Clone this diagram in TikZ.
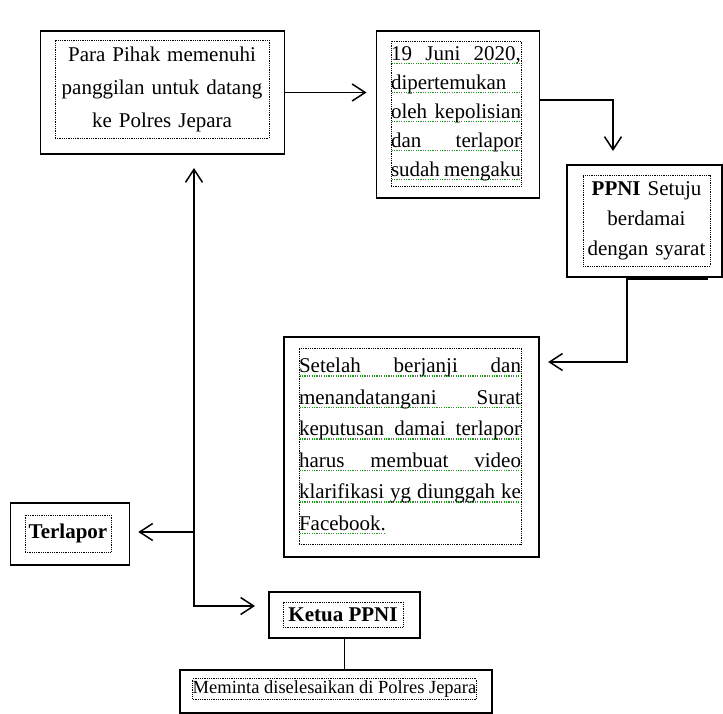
\documentclass[tikz,border=0pt]{standalone}
\usepackage{fontspec}
\setmainfont{Liberation Serif}
\usetikzlibrary{arrows.meta,calc}
\setlength{\parindent}{0pt}
\definecolor{squig}{RGB}{40,150,40}
\newcommand{\squig}[1]{\leavevmode\setbox0\hbox{#1}\rlap{\textcolor{squig}{\raisebox{-4pt}{\hbox to \wd0{\leaders\hbox to 2.4pt{\hss\rule{1.1pt}{1.1pt}\hss}\hfill}}}}\box0}
\newcommand{\fline}[1]{\squig{\makebox[\hsize][s]{#1}}}
\newcommand{\lline}[1]{\squig{#1}}
\tikzset{
    box/.style = {draw, rectangle, line width=1.5pt, inner sep=0pt, outer sep=0pt},
    frame/.style = {draw, rectangle, densely dotted, line width=0.8pt, inner sep=0pt},
    link/.style = {draw, line width=1.5pt, -{Straight Barb[length=13pt,width=17pt,line width=1.5pt]}}
}

\begin{document}
\begin{tikzpicture}[x=1pt, y=-1pt]
    \useasboundingbox (0,0) rectangle (723,714);
    % outer boxes
    \node [box, minimum width=244pt, minimum height=123pt] (para) at (162.5,92.5) {};
    \node [box, minimum width=163pt, minimum height=167pt] (juni) at (458,114.5) {};
    \node [box, minimum width=155pt, minimum height=112pt] (setuju) at (644.5,221) {};
    \node [box, minimum width=255pt, minimum height=220pt] (hasil) at (411.7,447) {};
    \node [box, minimum width=119pt, minimum height=62pt] (lapor) at (69.8,534) {};
    \node [box, minimum width=151pt, minimum height=46pt] (ketua) at (344.5,615) {};
    \node [box, minimum width=312pt, minimum height=43pt] (minta) at (336,691.5) {};
    % text frames
    \node [frame, text width=214pt, minimum height=98pt, align=center, font=\fontsize{21}{33}\selectfont] (paraT) at (162,89)
        {Para Pihak memenuhi\\ panggilan untuk datang\\ ke Polres Jepara};
    \node [frame, text width=130pt, minimum height=145pt, align=flush left, font=\fontsize{21}{29}\selectfont] (juniT) at (456,113.5)
        {\fline{19 Juni 2020,}\\ \fline{dipertemukan}\\ \fline{oleh kepolisian}\\ \fline{dan terlapor}\\ \fline{sudah mengaku}};
    \node [frame, text width=127pt, minimum height=91pt, align=center, font=\fontsize{21}{30}\selectfont] (setujuT) at (646.5,220.5)
        {\textbf{PPNI} Setuju\\ berdamai\\ dengan syarat};
    \node [frame, text width=222pt, minimum height=196pt, align=flush left, font=\fontsize{21}{31.5}\selectfont] (hasilT) at (410,446)
        {\fline{Setelah berjanji dan}\\ \fline{menandatangani Surat}\\ \fline{keputusan damai terlapor}\\ \fline{harus membuat video}\\ \fline{klarifikasi yg diunggah ke}\\ \lline{Facebook.}\\[12pt]};
    \node [frame, minimum width=86pt, minimum height=37pt, font=\fontsize{21}{25}\selectfont\bfseries] (laporT) at (68,533.5) {Terlapor};
    \node [frame, minimum width=120pt, minimum height=25pt, font=\fontsize{21}{25}\selectfont\bfseries] (ketuaT) at (343,614.5) {Ketua PPNI};
    \node [frame, minimum width=283pt, minimum height=20.5pt, font=\fontsize{18.5}{22}\selectfont] (mintaT) at (334.5,689) {Meminta diselesaikan di Polres Jepara};
    % connectors
    \draw [link, shorten >=10pt] (para.east) -- (para.east -| juni.west);
    \draw [link, shorten >=14pt] ([yshift=14.5pt]juni.east) -| ([xshift=-31.5pt]setuju.north);
    \draw [link, shorten >=9pt] ([xshift=-17.5pt]setuju.south) |- ([yshift=85pt]hasil.east);
    \draw [line width=3pt] ([xshift=-17.5pt,yshift=-1pt]setuju.south) -- ([xshift=63pt,yshift=-1pt]setuju.south);
    \coordinate (split) at (194,532);
    \draw [link, shorten >=14pt] (split) -- (split |- para.south);
    \draw [link, shorten >=9pt] (split) -- (split -| lapor.east);
    \draw [link, shorten >=14pt] (split) |- ([yshift=9pt]ketua.west);
    \draw [line width=1.5pt] (ketua.south) -- (ketua.south |- minta.north);
\end{tikzpicture}
\end{document}
